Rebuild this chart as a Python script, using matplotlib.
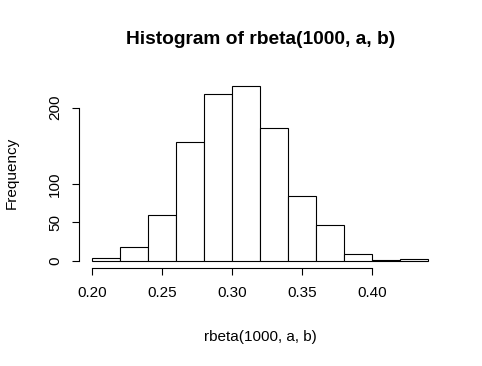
import numpy as np
import matplotlib
matplotlib.use("Agg")
import matplotlib.pyplot as plt

# histogram of rbeta(1000, a, b)
bin_edges = [0.20, 0.22, 0.24, 0.26, 0.28, 0.30, 0.32, 0.34, 0.36, 0.38, 0.40, 0.42, 0.44]
counts = [3, 18, 60, 155, 218, 229, 174, 84, 47, 9, 1, 2]
x_ticks = [0.20, 0.25, 0.30, 0.35, 0.40]
x_tick_labels = ["0.20", "0.25", "0.30", "0.35", "0.40"]
y_ticks = [0, 50, 100, 200]

plt.rcParams['font.family'] = ['Liberation Sans', 'DejaVu Sans']

fig = plt.figure(figsize=(4.82, 3.66), dpi=100)
pos_l, pos_r, pos_b, pos_t = 0.1637, 0.9164, 0.2686, 0.7855
ax = fig.add_axes([pos_l, pos_b, pos_r - pos_l, pos_t - pos_b])

left = np.array(bin_edges[:-1])
widths = np.diff(bin_edges)
ax.bar(left, counts, width=widths, align='edge', facecolor='white',
       edgecolor='black', linewidth=0.8)

xr = bin_edges[-1] - bin_edges[0]
ax.set_xlim(bin_edges[0] - 0.04 * xr, bin_edges[-1] + 0.04 * xr)
ymax = max(counts)
ax.set_ylim(-0.04 * ymax, ymax * 1.04)

for s in ['top', 'right']:
    ax.spines[s].set_visible(False)
ax.spines['left'].set_bounds(0, 200)
ax.spines['bottom'].set_bounds(0.20, 0.40)
for s in ['left', 'bottom']:
    ax.spines[s].set_linewidth(0.8)

ax.set_xticks(x_ticks)
ax.set_xticklabels(x_tick_labels)
ax.set_yticks(y_ticks)
ax.set_yticklabels([str(v) for v in y_ticks], rotation=90, va='center')
ax.tick_params(axis='both', length=5, width=0.8, labelsize=11)
ax.tick_params(axis='x', pad=8)
ax.tick_params(axis='y', pad=7)

fig.text(0.5 * (pos_l + pos_r), 1 - 336.7 / 366, "rbeta(1000, a, b)",
         ha='center', va='center', fontsize=11)
fig.text(12 / 482, 0.5 * (pos_b + pos_t), "Frequency", rotation=90,
         ha='center', va='center', fontsize=11)
fig.text(0.5 * (pos_l + pos_r), 1 - 40 / 366, "Histogram of rbeta(1000, a, b)",
         ha='center', va='center', fontsize=13.8, fontweight='bold')

fig.savefig("out.png", dpi=100)
